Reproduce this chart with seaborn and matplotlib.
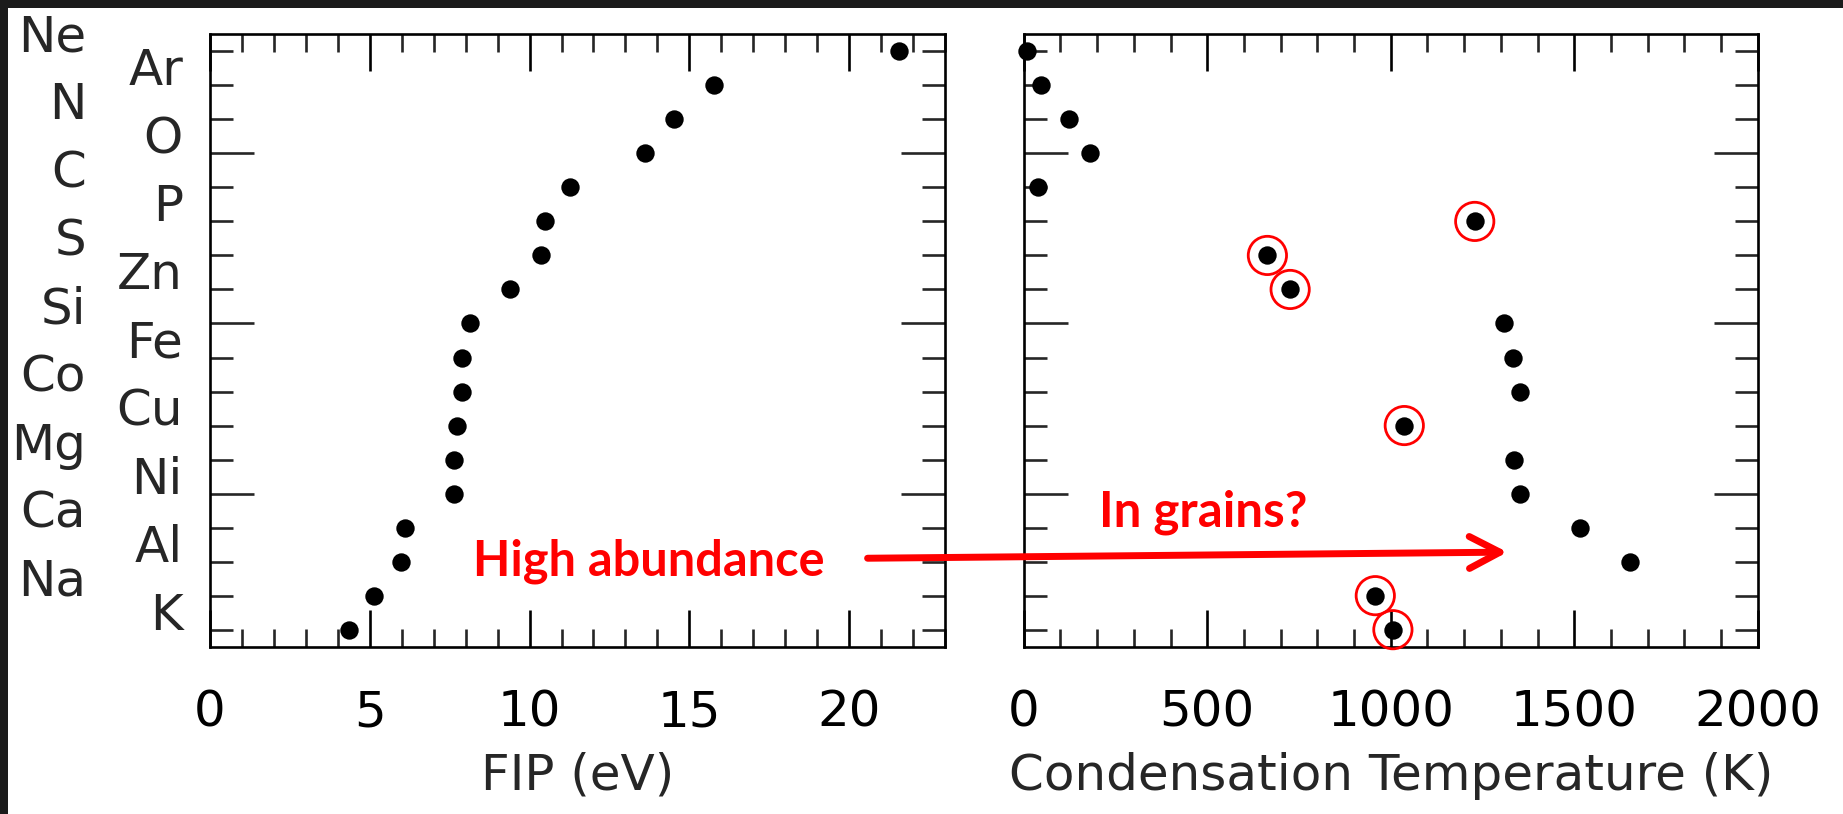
import numpy as np
import pandas as pd
import matplotlib
matplotlib.use("Agg")
import matplotlib.pyplot as plt
import matplotlib.transforms as mtransforms
from matplotlib.patches import Rectangle
from matplotlib.ticker import MultipleLocator, FixedLocator
import seaborn as sns

# ---- data (top to bottom) ----
elements = ['Ne', 'Ar', 'N', 'O', 'C', 'P', 'S', 'Zn', 'Si', 'Fe', 'Co', 'Cu', 'Mg', 'Ni', 'Ca', 'Al', 'Na', 'K']
fip_ev = [21.56, 15.76, 14.53, 13.62, 11.26, 10.49, 10.36, 9.39, 8.15, 7.90, 7.88, 7.73, 7.65, 7.64, 6.11, 5.99, 5.14, 4.34]
tcond_k = [9, 47, 123, 180, 40, 1229, 664, 726, 1310, 1334, 1352, 1037, 1336, 1353, 1517, 1653, 958, 1006]
circled = ['P', 'S', 'Zn', 'Cu', 'Na', 'K']
fip_ticks = [0, 5, 10, 15, 20]
tc_ticks = [0, 500, 1000, 1500, 2000]
row_major = [5, 10, 15]

sns.set_style("white")
plt.rcParams['font.family'] = ['DejaVu Sans']

df = pd.DataFrame({'element': elements, 'fip': fip_ev, 'tcond': tcond_k})
df['row'] = np.arange(len(df), 0, -1)
df['circled'] = df['element'].isin(circled)

W, H = 1843, 814
fig = plt.figure(figsize=(W / 100, H / 100), dpi=100)
fig.patch.set_facecolor('white')
ax1 = fig.add_axes([209.7 / W, 1 - 646.7 / H, 735.6 / W, 612.4 / H])
ax2 = fig.add_axes([1023.7 / W, 1 - 646.7 / H, 734.0 / W, 612.4 / H])

LW = 1.9

# black dots
sns.scatterplot(data=df, x='fip', y='row', ax=ax1, color='black', s=175,
                linewidth=0, zorder=4, clip_on=False, legend=False)
sns.scatterplot(data=df, x='tcond', y='row', ax=ax2, color='black', s=175,
                linewidth=0, zorder=4, clip_on=False, legend=False)
# red rings
sns.scatterplot(data=df[df['circled']], x='tcond', y='row', ax=ax2, color='red',
                s=760, zorder=3, clip_on=False, legend=False)
ring = ax2.collections[-1]
ring.set_facecolor('none')
ring.set_edgecolor('red')
ring.set_linewidth(2.0)

for ax, xlim, ticks, minor in [(ax1, (0, 23), fip_ticks, 1), (ax2, (0, 2000), tc_ticks, 100)]:
    ax.set_xlim(*xlim)
    ax.set_ylim(0.5, len(elements) + 0.5)
    ax.xaxis.set_major_locator(FixedLocator(ticks))
    ax.xaxis.set_minor_locator(MultipleLocator(minor))
    ax.yaxis.set_major_locator(FixedLocator(row_major))
    ax.yaxis.set_minor_locator(MultipleLocator(1))
    ax.tick_params(axis='x', which='major', direction='in', length=26.4, width=LW,
                   top=True, bottom=True, labelsize=36, pad=30, colors='black')
    ax.tick_params(axis='x', which='minor', direction='in', length=13.2, width=LW,
                   top=True, bottom=True)
    ax.tick_params(axis='y', which='major', direction='in', length=31.7, width=LW,
                   left=True, right=True, labelleft=False)
    ax.tick_params(axis='y', which='minor', direction='in', length=16.3, width=LW,
                   left=True, right=True)
    for sp in ax.spines.values():
        sp.set_visible(True)
        sp.set_color('black')
        sp.set_linewidth(LW)
    ax.set_ylabel('')
    ax.set_facecolor('white')

ax1.set_xlabel('FIP (eV)', fontsize=36, labelpad=11)
ax2.set_xlabel('Condensation Temperature (K)', fontsize=36, labelpad=11)

# element labels, staggered in two columns
trans = mtransforms.blended_transform_factory(ax1.transAxes, ax1.transData)
for i, (el, r) in enumerate(zip(df['element'], df['row'])):
    xpos = -0.168 if i % 2 == 0 else -0.0363
    ax1.text(xpos, r, el, transform=trans, ha='right', va='baseline', fontsize=36)

# annotations
red_font = ['Lato', 'DejaVu Sans']
ax1.text(8.23, 2.60, 'High abundance', color='red', fontsize=35, fontweight='bold',
         family=red_font, ha='left', va='baseline', zorder=6)
ax2.text(206.5, 4.02, 'In grains?', color='red', fontsize=35.5, fontweight='bold',
         family=red_font, ha='left', va='baseline', zorder=6)
ax2.annotate('', xy=(1318, 3.28), xycoords='data', xytext=(20.57, 3.10),
             textcoords=ax1.transData, annotation_clip=False,
             arrowprops=dict(arrowstyle='->,head_length=22,head_width=11.5', mutation_scale=1,
                             color='red', lw=5, shrinkA=0, shrinkB=0,
                             capstyle='round', joinstyle='round'), zorder=6)

# dark frame bands of the screenshot
fig.add_artist(Rectangle((0, 1 - 8 / H), 1, 8 / H, transform=fig.transFigure,
                         facecolor='#1b1b1b', edgecolor='none', zorder=10))
fig.add_artist(Rectangle((0, 0), 8 / W, 1, transform=fig.transFigure,
                         facecolor='#1b1b1b', edgecolor='none', zorder=10))

fig.savefig('out.png', dpi=100, facecolor='white')
